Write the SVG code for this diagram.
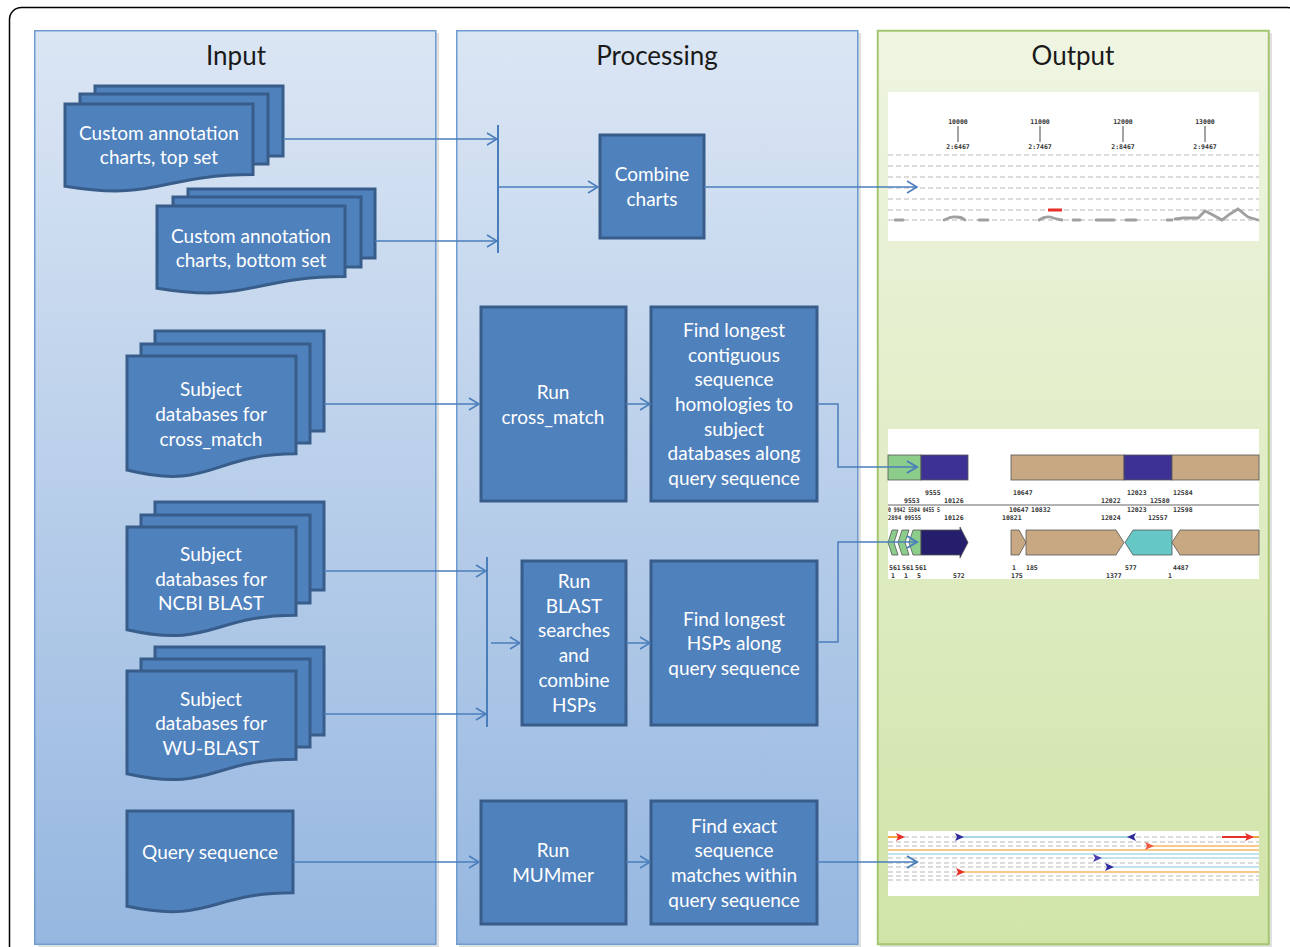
<svg xmlns="http://www.w3.org/2000/svg" width="1290" height="947" viewBox="0 0 1290 947">
<defs>
<linearGradient id="gBlue" x1="0" y1="0" x2="0" y2="1">
<stop offset="0" stop-color="#dbe6f4"/>
<stop offset="1" stop-color="#96b7e0"/>
</linearGradient>
<linearGradient id="gGreen" x1="0" y1="0" x2="0" y2="1">
<stop offset="0" stop-color="#eff5e2"/>
<stop offset="1" stop-color="#d1e4a8"/>
</linearGradient>
<marker id="arr" markerUnits="userSpaceOnUse" markerWidth="14" markerHeight="16" refX="11" refY="7" orient="auto">
<path d="M1,1 L11,7 L1,13" fill="none" stroke="#4a7ebb" stroke-width="1.5"/>
</marker>
<marker id="arrW" markerUnits="userSpaceOnUse" markerWidth="14" markerHeight="16" refX="11" refY="7" orient="auto">
<path d="M1,1 L11,7 L1,13" fill="none" stroke="#4a7ebb" stroke-width="2"/>
</marker>
</defs>
<style>
.panel{stroke:#6e9bd0;stroke-width:1.5}
.shadow{fill:#000;opacity:0.12}
.title{font-family:Lato,"Open Sans",sans-serif;font-size:26px;fill:#1a1a1a;text-anchor:middle}
.box{fill:#4f81bd;stroke:#385d8a;stroke-width:3}
.lbl{font-family:Lato,"Open Sans",sans-serif;font-size:19px;fill:#ffffff;text-anchor:middle}
.con{fill:none;stroke:#4a7ebb;stroke-width:1.5}
.bar{fill:none;stroke:#4a7ebb;stroke-width:2}
.dash{stroke:#cfcfcf;stroke-width:1.3;stroke-dasharray:5 3}
.num{font-family:"DejaVu Sans Mono",monospace;font-size:6.5px;fill:#333;font-weight:bold}
.numc{font-family:"DejaVu Sans Mono",monospace;font-size:6.5px;fill:#333;font-weight:bold;text-anchor:middle}
.seg{stroke:#555;stroke-width:0.8}
</style>

<rect x="9.5" y="7.5" width="1290" height="970" rx="12" fill="#ffffff" stroke="#000" stroke-width="1.5"/>

<g id="panel-input">
<rect class="shadow" x="38" y="33" width="401" height="914"/>
<rect class="panel" x="34.75" y="30.75" width="401" height="913.5" fill="url(#gBlue)"/>
<text class="title" x="236" y="65">Input</text>
</g>
<g id="panel-processing">
<rect class="shadow" x="459" y="33" width="402" height="914"/>
<rect class="panel" x="456.75" y="30.75" width="401" height="913.5" fill="url(#gBlue)"/>
<text class="title" x="657" y="65">Processing</text>
</g>
<g id="panel-output">
<rect class="shadow" x="880" y="33" width="392" height="914"/>
<rect x="877.75" y="30.75" width="391" height="913.5" fill="url(#gGreen)" stroke="#a5c670" stroke-width="2"/>
<text class="title" x="1073" y="65">Output</text>
</g>

<g id="doc-top-set">
<rect class="box" x="95" y="86" width="188" height="70"/>
<rect class="box" x="80" y="94" width="188" height="70"/>
<path class="box" d="M65,104 H253 V174.6 C159,174.6 159,201.5 65,186.2 Z"/>
<text class="lbl" x="159" y="140">Custom annotation</text>
<text class="lbl" x="159" y="164">charts, top set</text>
</g>
<g id="doc-bottom-set">
<rect class="box" x="188" y="189" width="187" height="69"/>
<rect class="box" x="173" y="197" width="188" height="70"/>
<path class="box" d="M157,206 H345 V276.6 C251,276.6 251,303.5 157,288.2 Z"/>
<text class="lbl" x="251" y="243">Custom annotation</text>
<text class="lbl" x="251" y="267">charts, bottom set</text>
</g>
<g id="doc-crossmatch">
<rect class="box" x="155" y="331" width="169" height="100"/>
<rect class="box" x="141" y="344" width="169" height="99"/>
<path class="box" d="M127,356 H296 V453.8 C211.5,453.8 211.5,491 127,470 Z"/>
<text class="lbl" x="211" y="396">Subject</text>
<text class="lbl" x="211" y="421">databases for</text>
<text class="lbl" x="211" y="446">cross_match</text>
</g>
<g id="doc-ncbi">
<rect class="box" x="155" y="502" width="169" height="88"/>
<rect class="box" x="141" y="515" width="169" height="88"/>
<path class="box" d="M127,527 H296 V615.2 C211.5,615.2 211.5,648.8 127,629.7 Z"/>
<text class="lbl" x="211" y="561">Subject</text>
<text class="lbl" x="211" y="586">databases for</text>
<text class="lbl" x="211" y="610">NCBI BLAST</text>
</g>
<g id="doc-wu">
<rect class="box" x="155" y="647" width="169" height="88"/>
<rect class="box" x="141" y="659" width="169" height="88"/>
<path class="box" d="M127,671 H296 V759.2 C211.5,759.2 211.5,792.8 127,773.7 Z"/>
<text class="lbl" x="211" y="706">Subject</text>
<text class="lbl" x="211" y="730">databases for</text>
<text class="lbl" x="211" y="755">WU-BLAST</text>
</g>
<g id="doc-query">
<path class="box" d="M127,811 H293 V892.8 C210,892.8 210,924 127,906.3 Z"/>
<text class="lbl" x="210" y="859">Query sequence</text>
</g>

<g id="box-combine">
<rect class="box" x="600" y="135" width="104" height="103"/>
<text class="lbl" x="652" y="181">Combine</text>
<text class="lbl" x="652" y="206">charts</text>
</g>
<g id="box-crossmatch">
<rect class="box" x="481" y="307" width="145" height="194"/>
<text class="lbl" x="553" y="399">Run</text>
<text class="lbl" x="553" y="424">cross_match</text>
</g>
<g id="box-find-contig">
<rect class="box" x="651" y="307" width="166" height="194"/>
<text class="lbl" x="734" y="337">Find longest</text>
<text class="lbl" x="734" y="362">contiguous</text>
<text class="lbl" x="734" y="386">sequence</text>
<text class="lbl" x="734" y="411">homologies to</text>
<text class="lbl" x="734" y="436">subject</text>
<text class="lbl" x="734" y="460">databases along</text>
<text class="lbl" x="734" y="485">query sequence</text>
</g>
<g id="box-blast">
<rect class="box" x="522" y="561" width="104" height="164"/>
<text class="lbl" x="574" y="588">Run</text>
<text class="lbl" x="574" y="613">BLAST</text>
<text class="lbl" x="574" y="637">searches</text>
<text class="lbl" x="574" y="662">and</text>
<text class="lbl" x="574" y="687">combine</text>
<text class="lbl" x="574" y="712">HSPs</text>
</g>
<g id="box-find-hsp">
<rect class="box" x="651" y="561" width="166" height="164"/>
<text class="lbl" x="734" y="626">Find longest</text>
<text class="lbl" x="734" y="650">HSPs along</text>
<text class="lbl" x="734" y="675">query sequence</text>
</g>
<g id="box-mummer">
<rect class="box" x="481" y="801" width="145" height="123"/>
<text class="lbl" x="553" y="857">Run</text>
<text class="lbl" x="553" y="882">MUMmer</text>
</g>
<g id="box-find-exact">
<rect class="box" x="651" y="801" width="166" height="123"/>
<text class="lbl" x="734" y="833">Find exact</text>
<text class="lbl" x="734" y="857">sequence</text>
<text class="lbl" x="734" y="882">matches within</text>
<text class="lbl" x="734" y="907">query sequence</text>
</g>

<g id="output-chart">
<rect x="888" y="92" width="371" height="149" fill="#fff"/>
<g class="dash">
<line x1="888" y1="155" x2="1259" y2="155"/>
<line x1="888" y1="166" x2="1259" y2="166"/>
<line x1="888" y1="177" x2="1259" y2="177"/>
<line x1="888" y1="188" x2="1259" y2="188"/>
<line x1="888" y1="199" x2="1259" y2="199"/>
<line x1="888" y1="210" x2="1259" y2="210"/>
<line x1="888" y1="220" x2="1259" y2="220"/>
</g>
<g stroke="#666" stroke-width="1.2">
<line x1="958" y1="126" x2="958" y2="142"/>
<line x1="1040" y1="126" x2="1040" y2="142"/>
<line x1="1123" y1="126" x2="1123" y2="142"/>
<line x1="1205" y1="126" x2="1205" y2="142"/>
</g>
<text class="numc" x="958" y="124">10000</text>
<text class="numc" x="958" y="149">2:6467</text>
<text class="numc" x="1040" y="124">11000</text>
<text class="numc" x="1040" y="149">2:7467</text>
<text class="numc" x="1123" y="124">12000</text>
<text class="numc" x="1123" y="149">2:8467</text>
<text class="numc" x="1205" y="124">13000</text>
<text class="numc" x="1205" y="149">2:9467</text>
<rect x="1048" y="208.5" width="14" height="3" fill="#e8302a"/>
<g fill="none" stroke="#a0a0a0" stroke-width="2.8" stroke-linecap="round">
<path d="M895,220 H903"/>
<path d="M944,220 Q952,216 956,217 Q962,217 965,220"/>
<path d="M979,220 H988"/>
<path d="M1039,220 Q1045,216 1050,217 Q1056,219 1062,220"/>
<path d="M1073,220 H1080"/>
<path d="M1096,220 H1114"/>
<path d="M1126,220 H1136"/>
<path d="M1167,220 H1172"/>
<path d="M1175,219 L1183,218 L1191,218 L1198,218 L1205,211 L1213,215 L1222,220 L1230,214 L1238,209 L1248,217 L1258,220"/>
</g>
</g>

<g id="output-alignment">
<rect x="888" y="429" width="371" height="150" fill="#fff"/>
<rect class="seg" x="888" y="455" width="33" height="25" fill="#8ccd8c"/>
<rect class="seg" x="921" y="455" width="47" height="25" fill="#3d3193"/>
<rect class="seg" x="1011" y="455" width="113" height="25" fill="#c8a882"/>
<rect class="seg" x="1124" y="455" width="48" height="25" fill="#3d3193"/>
<rect class="seg" x="1172" y="455" width="87" height="25" fill="#c8a882"/>
<line x1="888" y1="505" x2="1259" y2="505" stroke="#999" stroke-width="1.3"/>
<text class="num" x="925" y="495">9555</text>
<text class="num" x="1013" y="495">10647</text>
<text class="num" x="1127" y="495">12023</text>
<text class="num" x="1173" y="495">12584</text>
<text class="num" x="904" y="503">9553</text>
<text class="num" x="944" y="503">10126</text>
<text class="num" x="1101" y="503">12022</text>
<text class="num" x="1150" y="503">12580</text>
<text class="num" x="888" y="512" textLength="52" lengthAdjust="spacingAndGlyphs">0 9942 5504 0455 5</text>
<text class="num" x="1009" y="512">10647</text>
<text class="num" x="1031" y="512">10832</text>
<text class="num" x="1127" y="512">12023</text>
<text class="num" x="1173" y="512">12598</text>
<text class="num" x="888" y="520" textLength="33" lengthAdjust="spacingAndGlyphs">2894 09555</text>
<text class="num" x="944" y="520">10126</text>
<text class="num" x="1002" y="520">10821</text>
<text class="num" x="1101" y="520">12024</text>
<text class="num" x="1148" y="520">12557</text>
<polygon class="seg" points="888,542.5 892,530 898,530 894,542.5 898,555 892,555" fill="#8ccd8c"/>
<polygon class="seg" points="898,542.5 902,530 909,530 905,542.5 909,555 902,555" fill="#8ccd8c"/>
<polygon class="seg" points="909,542.5 913,530 921,530 921,555 913,555" fill="#8ccd8c"/>
<polygon class="seg" points="921,530 960,530 960,527 968,542.5 960,558 960,555 921,555" fill="#251f6b"/>
<polygon class="seg" points="1011,530 1019,530 1026,542.5 1019,555 1011,555" fill="#c8a882"/>
<polygon class="seg" points="1026,530 1116,530 1124,542.5 1116,555 1026,555" fill="#c8a882"/>
<polygon class="seg" points="1125,542.5 1133,530 1172,530 1172,555 1133,555" fill="#66c7c7"/>
<polygon class="seg" points="1172,542.5 1180,530 1259,530 1259,555 1180,555" fill="#c8a882"/>
<text class="num" x="889" y="570">561</text>
<text class="num" x="902" y="570">561</text>
<text class="num" x="915" y="570">561</text>
<text class="num" x="891" y="578">1</text>
<text class="num" x="904" y="578">1</text>
<text class="num" x="917" y="578">5</text>
<text class="num" x="953" y="578">572</text>
<text class="num" x="1012" y="570">1</text>
<text class="num" x="1026" y="570">185</text>
<text class="num" x="1125" y="570">577</text>
<text class="num" x="1173" y="570">4487</text>
<text class="num" x="1011" y="578">175</text>
<text class="num" x="1106" y="578">1377</text>
<text class="num" x="1168" y="578">1</text>
</g>

<g id="output-mummer">
<rect x="888" y="831" width="371" height="65" fill="#fff"/>
<g class="dash">
<line x1="888" y1="837" x2="1259" y2="837"/>
<line x1="888" y1="842" x2="1259" y2="842"/>
<line x1="888" y1="846" x2="1259" y2="846"/>
<line x1="888" y1="858" x2="1259" y2="858"/>
<line x1="888" y1="863" x2="1259" y2="863"/>
<line x1="888" y1="867" x2="1259" y2="867"/>
<line x1="888" y1="872" x2="1259" y2="872"/>
<line x1="888" y1="876" x2="1259" y2="876"/>
<line x1="888" y1="880" x2="1259" y2="880"/>
</g>
<g stroke-width="2" fill="none">
<line x1="888" y1="837" x2="900" y2="837" stroke="#f2a64a"/>
<line x1="962" y1="837" x2="1130" y2="837" stroke="#a8d8e6"/>
<line x1="1222" y1="837" x2="1250" y2="837" stroke="#e8302a"/>
<line x1="1250" y1="837" x2="1259" y2="837" stroke="#f2a64a"/>
<line x1="1152" y1="846" x2="1259" y2="846" stroke="#f7c98a"/>
<line x1="888" y1="850" x2="1259" y2="850" stroke="#f7c98a"/>
<line x1="888" y1="854" x2="1259" y2="854" stroke="#c4e2ee"/>
<line x1="1100" y1="858" x2="1259" y2="858" stroke="#c4e2ee"/>
<line x1="1112" y1="867" x2="1259" y2="867" stroke="#c4e2ee"/>
<line x1="963" y1="872" x2="1259" y2="872" stroke="#f7c98a"/>
</g>
<g>
<polygon points="896,833 905,837 896,841 898,837" fill="#e8302a"/>
<polygon points="955,833 964,837 955,841 957,837" fill="#2f2a99"/>
<polygon points="1136,833 1127,837 1136,841 1134,837" fill="#2f2a99"/>
<polygon points="1245,833 1254,837 1245,841 1247,837" fill="#e8302a"/>
<polygon points="1145,842 1154,846 1145,850 1147,846" fill="#f05a3c"/>
<polygon points="1093,854 1102,858 1093,862 1095,858" fill="#4a3fb0"/>
<polygon points="1105,863 1114,867 1105,871 1107,867" fill="#2f2a99"/>
<polygon points="956,868 965,872 956,876 958,872" fill="#e8302a"/>
</g>
</g>

<g id="connectors">
<path class="con" d="M283,139 H497" marker-end="url(#arr)"/>
<path class="con" d="M375,241 H497" marker-end="url(#arr)"/>
<path class="bar" d="M498,125 V253"/>
<path class="con" d="M498,187 H598" marker-end="url(#arr)"/>
<path class="con" d="M704,187 H917" marker-end="url(#arr)"/>
<path class="con" d="M324,404 H479" marker-end="url(#arr)"/>
<path class="con" d="M626,404 H650" marker-end="url(#arr)"/>
<path class="con" d="M817,404 H838 V467 H917" marker-end="url(#arrW)"/>
<path class="con" d="M324,571 H486" marker-end="url(#arr)"/>
<path class="con" d="M324,714 H486" marker-end="url(#arr)"/>
<path class="bar" d="M487,557 V727"/>
<path class="con" d="M491,643 H520" marker-end="url(#arr)"/>
<path class="con" d="M626,643 H650" marker-end="url(#arr)"/>
<path class="con" d="M817,642 H838 V542 H917" marker-end="url(#arrW)"/>
<path class="con" d="M293,862 H479" marker-end="url(#arr)"/>
<path class="con" d="M626,862 H650" marker-end="url(#arr)"/>
<path class="con" d="M817,862 H917" marker-end="url(#arrW)"/>
</g>
</svg>
